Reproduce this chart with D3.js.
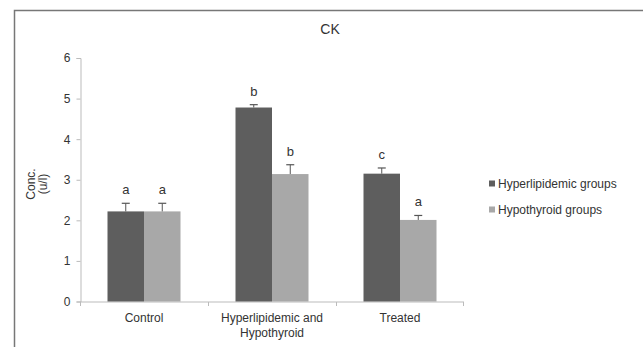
<!DOCTYPE html>
<html>
<head>
<meta charset="utf-8">
<script src="https://cdn.jsdelivr.net/npm/d3@7"></script>
<style>
  body { margin: 0; background: #fff; }
  svg text { font-family: "Liberation Sans", Arial, sans-serif; fill: #333; }
</style>
</head>
<body>
<svg id="chart" width="643" height="347"></svg>
<script>
// chart data
var categories = [["Control"], ["Hyperlipidemic and", "Hypothyroid"], ["Treated"]];
var seriesNames = ["Hyperlipidemic groups", "Hypothyroid groups"];
var hyperValues = [2.22, 4.78, 3.15];
var hyperErrors = [0.2, 0.07, 0.14];
var hyperLetters = ["a", "b", "c"];
var hypoValues = [2.22, 3.14, 2.01];
var hypoErrors = [0.2, 0.23, 0.11];
var hypoLetters = ["a", "b", "a"];
var yTicks = [0, 1, 2, 3, 4, 5, 6];

var colors = ["#5e5e5e", "#a8a8a8"];

var svg = d3.select("#chart");

// outer frame (cropped at right and bottom like the source)
svg.append("path")
  .attr("d", "M14.5,347 L14.5,10.5 L643,10.5")
  .attr("fill", "none")
  .attr("stroke", "#777")
  .attr("stroke-width", 1.5);

var x = d3.scaleBand()
  .domain(d3.range(categories.length))
  .range([80, 464]);

var y = d3.scaleLinear()
  .domain([0, 6])
  .range([301.5, 58]);

var barW = 36.5;

// axes
var yAxis = svg.append("g")
  .attr("transform", "translate(80.5,0)")
  .call(d3.axisLeft(y).tickValues(yTicks).tickFormat(d3.format("d")).tickSize(4).tickPadding(6));
yAxis.selectAll("line, path").attr("stroke", "#bbb");
yAxis.selectAll("text").style("font-size", "12px").attr("fill", "#333");

var xAxis = svg.append("g")
  .attr("transform", "translate(0," + (y(0) + 0.5) + ")");
xAxis.append("line")
  .attr("x1", 80).attr("x2", 464)
  .attr("stroke", "#bbb");
xAxis.selectAll(".tick")
  .data(d3.range(categories.length + 1))
  .join("line")
  .attr("x1", function(d) { return d < categories.length ? x(d) + 0.5 : 463.5; })
  .attr("x2", function(d) { return d < categories.length ? x(d) + 0.5 : 463.5; })
  .attr("y1", 0).attr("y2", 4)
  .attr("stroke", "#bbb");

// category labels
categories.forEach(function(lines, i) {
  var t = svg.append("text")
    .attr("x", x(i) + x.bandwidth() / 2)
    .attr("y", 322)
    .attr("text-anchor", "middle")
    .style("font-size", "12px");
  lines.forEach(function(line, j) {
    t.append("tspan")
      .attr("x", x(i) + x.bandwidth() / 2)
      .attr("dy", j === 0 ? 0 : 15)
      .text(line);
  });
});

// bars, error bars and letters
var series = [
  { values: hyperValues, errors: hyperErrors, letters: hyperLetters },
  { values: hypoValues, errors: hypoErrors, letters: hypoLetters }
];

series.forEach(function(s, si) {
  var g = svg.append("g");
  var cx = function(i) { return x(i) + x.bandwidth() / 2 - barW + si * barW; };

  g.selectAll("rect")
    .data(s.values)
    .join("rect")
    .attr("x", function(d, i) { return cx(i); })
    .attr("y", function(d) { return y(d); })
    .attr("width", barW)
    .attr("height", function(d) { return y(0) - y(d); })
    .attr("fill", colors[si]);

  s.values.forEach(function(v, i) {
    var mx = cx(i) + barW / 2;
    var top = y(v + s.errors[i]);
    g.append("line")
      .attr("x1", mx).attr("x2", mx)
      .attr("y1", y(v)).attr("y2", top)
      .attr("stroke", "#555").attr("stroke-width", 1);
    g.append("line")
      .attr("x1", mx - 4).attr("x2", mx + 4)
      .attr("y1", top).attr("y2", top)
      .attr("stroke", "#555").attr("stroke-width", 1.2);
    g.append("text")
      .attr("x", mx)
      .attr("y", top - 9)
      .attr("text-anchor", "middle")
      .style("font-size", "13px")
      .text(s.letters[i]);
  });
});

// title
svg.append("text")
  .attr("x", 330)
  .attr("y", 34)
  .attr("text-anchor", "middle")
  .style("font-size", "14px")
  .text("CK");

// y label
var yl = svg.append("text")
  .attr("transform", "translate(35,184) rotate(-90)")
  .attr("text-anchor", "middle")
  .style("font-size", "12px");
yl.append("tspan").attr("x", 0).attr("dy", 0).text("Conc.");
yl.append("tspan").attr("x", 0).attr("dy", 12).text("(u/l)");

// legend
var legend = svg.append("g").attr("transform", "translate(489,0)");
seriesNames.forEach(function(name, i) {
  var ly = 184 + i * 26;
  legend.append("rect")
    .attr("x", 0).attr("y", ly - 3.5)
    .attr("width", 6).attr("height", 6)
    .attr("fill", colors[i]);
  legend.append("text")
    .attr("x", 9).attr("y", ly + 4)
    .style("font-size", "12px")
    .text(name);
});
</script>
</body>
</html>
